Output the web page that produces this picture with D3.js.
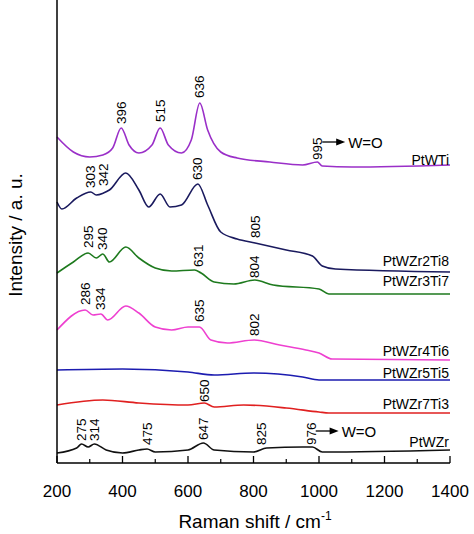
<!DOCTYPE html><html><head><meta charset="utf-8">
<script src="https://cdn.jsdelivr.net/npm/d3@7"></script>
<style>body{margin:0;background:#fff}</style></head><body><svg id="c" width="474" height="534"></svg>
<script>
// intensity in arbitrary units (0 = bottom axis)
const ptWTi=[[200,137],[250,152],[300,157],[340,155],[370,148],[396,128],[420,145],[450,153],[490,145],[515,128],[540,145],[580,153],[610,140],[636,103],[660,130],[700,152],[750,158],[850,162],[950,165],[995,162],[1010,166],[1100,167],[1400,165]];
const ptWZr2Ti8=[[200,202],[215,209],[260,198],[303,192],[320,195],[342,193],[360,190],[410,173],[450,190],[480,207],[515,194],[545,207],[580,205],[630,184],[660,205],[700,232],[750,239],[805,243],[900,250],[980,256],[1010,266],[1050,269],[1400,272]];
const ptWZr3Ti7=[[200,273],[250,262],[295,253],[320,258],[340,254],[360,262],[410,247],[450,258],[500,268],[550,271],[620,270],[640,273],[680,282],[740,284],[804,280],[860,285],[1000,289],[1030,294],[1400,294]];
const ptWZr4Ti6=[[200,330],[286,310],[310,315],[334,314],[355,320],[410,306],[450,313],[500,327],[550,330],[600,327],[635,327],[670,340],[720,343],[802,340],[880,345],[960,350],[1000,353],[1040,359],[1400,360]];
const ptWZr5Ti5=[[200,370],[400,369],[600,372],[680,375],[800,373],[950,377],[1000,380],[1400,380]];
const ptWZr7Ti3=[[200,405],[340,400],[450,403],[600,405],[650,403],[680,407],[770,405],[900,408],[1000,412],[1030,413],[1400,413]];
const ptWZr=[[200,453],[260,448],[275,444],[295,447],[314,444],[350,450],[400,453],[450,450],[475,449],[500,452],[600,450],[647,443],[680,450],[800,452],[840,448],[950,447],[980,447],[1010,452],[1400,450]];
const seriesNames=["PtWTi","PtWZr2Ti8","PtWZr3Ti7","PtWZr4Ti6","PtWZr5Ti5","PtWZr7Ti3","PtWZr"];
const seriesData=[ptWTi,ptWZr2Ti8,ptWZr3Ti7,ptWZr4Ti6,ptWZr5Ti5,ptWZr7Ti3,ptWZr];
const colors=["#9a2fc8","#1a1a5e","#1e7a1e","#ee40d0","#1c1cb0","#e02020","#111"];
const nameY=[165,266,286,356,378,409,447];
const peakLabels=[[396,124],[515,122],[636,98],[995,160],[303,188],[342,186],[630,180],[805,238],[295,248],[340,250],[631,267],[804,278],[286,305],[334,310],[635,322],[802,336],[650,402],[275,441],[314,441],[475,445],[647,440],[825,445],[976,445]];
const xTicks=[200,400,600,800,1000,1200,1400];
const minorTicks=[300,500,700,900,1100,1300];

const svg=d3.select("#c");
const F="Arial, Liberation Sans";
const x=d3.scaleLinear().domain([200,1400]).range([57,450]);
const y=d3.scaleLinear().domain([0,461]).range([463,2]);
const py=v=>y(463-v);
const line=d3.line().x(d=>x(d[0])).y(d=>py(d[1])).curve(d3.curveMonotoneX);
seriesData.forEach((s,i)=>{
 svg.append("path").attr("d",line(s)).attr("fill","none").attr("stroke",colors[i]).attr("stroke-width",1.6);
 svg.append("text").attr("x",449).attr("y",nameY[i]).attr("text-anchor","end").attr("font-family",F).attr("font-size",14).text(seriesNames[i]);
});
peakLabels.forEach(p=>{
 svg.append("text").attr("transform",`translate(${x(p[0])+4.5},${py(p[1])}) rotate(-90)`).attr("font-family",F).attr("font-size",13.5).text(p[0]);
});
function arrow(x0,x1,yy){
 svg.append("line").attr("x1",x0).attr("x2",x1-6).attr("y1",yy).attr("y2",yy).attr("stroke","#000").attr("stroke-width",1.3);
 svg.append("path").attr("d",`M${x1},${yy}L${x1-9},${yy-3.5}L${x1-9},${yy+3.5}Z`).attr("fill","#000");
 svg.append("text").attr("x",x1+3).attr("y",yy+5.5).attr("font-family",F).attr("font-size",15).text("W=O");
}
arrow(x(1010),x(1080),142);
arrow(x(990),x(1060),431);
// axes
svg.append("line").attr("x1",57).attr("x2",57).attr("y1",0).attr("y2",463).attr("stroke","#000").attr("stroke-width",1.5);
svg.append("line").attr("x1",57).attr("x2",450).attr("y1",463).attr("y2",463).attr("stroke","#000").attr("stroke-width",1.5);
xTicks.forEach(t=>{svg.append("line").attr("x1",x(t)).attr("x2",x(t)).attr("y1",463).attr("y2",456).attr("stroke","#000").attr("stroke-width",1.3);
 svg.append("text").attr("x",x(t)).attr("y",497).attr("text-anchor","middle").attr("font-family",F).attr("font-size",17).text(t);});
minorTicks.forEach(t=>svg.append("line").attr("x1",x(t)).attr("x2",x(t)).attr("y1",463).attr("y2",459).attr("stroke","#000").attr("stroke-width",1.2));
const xl=svg.append("text").attr("x",255).attr("y",528).attr("text-anchor","middle").attr("font-family",F).attr("font-size",19).text("Raman shift / cm");
xl.append("tspan").attr("dy",-8).attr("font-size",12).text("-1");
svg.append("text").attr("transform","translate(22,235) rotate(-90)").attr("text-anchor","middle").attr("font-family",F).attr("font-size",19).text("Intensity / a. u.");
</script></body></html>
